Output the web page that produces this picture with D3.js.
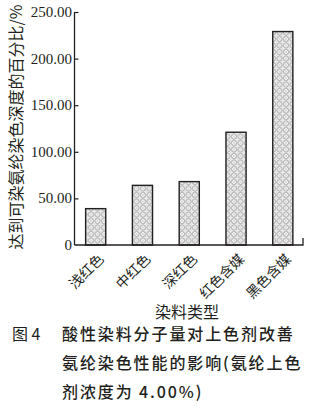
<!DOCTYPE html>
<html>
<head>
<meta charset="utf-8">
<script src="https://cdn.jsdelivr.net/npm/d3@7"></script>
<style>
  html, body { margin: 0; padding: 0; background: #fff; }
</style>
</head>
<body>
<div id="chart"></div>
<script>
// data
var categories = ["浅红色", "中红色", "深红色", "红色含媒", "黑色含媒"];
var values = [39, 64, 68, 121, 229];
var yTicks = [0, 50, 100, 150, 200, 250];
var yTickLabels = ["0", "50.00", "100.00", "150.00", "200.00", "250.00"];
var captionLines = ["酸性染料分子量对上色剂改善", "氨纶染色性能的影响(氨纶上色", "剂浓度为 4.00%)"];

var width = 314,
	height = 406,
	ink = "#231f20",
	serif = "'Liberation Serif', 'Times New Roman', serif",
	cjk = "'Noto Sans CJK SC', 'Noto Sans', sans-serif";

var svg = d3.select("#chart")
			.append("svg")
			.attr("width", width)
			.attr("height", height);

// crosshatch / chain-link fill of the bars
var defs = svg.append("defs");
var pat = defs.append("pattern")
			.attr("id", "hatch")
			.attr("patternUnits", "userSpaceOnUse")
			.attr("width", 6.5)
			.attr("height", 6.5);
pat.append("rect").attr("width", 6.5).attr("height", 6.5).attr("fill", "#fff");
[[3.25, 3.25], [0, 0], [6.5, 0], [0, 6.5], [6.5, 6.5]].forEach(function(c) {
	pat.append("circle")
		.attr("cx", c[0]).attr("cy", c[1]).attr("r", 2.6)
		.attr("fill", "none").attr("stroke", "#9a9a9a").attr("stroke-width", 0.6);
});
pat.append("path")
	.attr("d", "M0,0L6.5,6.5M6.5,0L0,6.5")
	.attr("stroke", "#b5b5b5").attr("stroke-width", 0.5);

var x = d3.scaleBand()
		.domain(categories)
		.range([73, 305.5])
		.paddingInner(0.57)
		.paddingOuter(0.27);

var y = d3.scaleLinear()
		.domain([0, 250])
		.range([245, 12]);

// bars
svg.selectAll(".bar")
	.data(values)
	.enter()
	.append("rect")
	.attr("class", "bar")
	.attr("x", function(d, i) { return x(categories[i]); })
	.attr("y", function(d) { return y(d); })
	.attr("width", x.bandwidth())
	.attr("height", function(d) { return y(0) - y(d); })
	.attr("fill", "url(#hatch)")
	.attr("stroke", ink)
	.attr("stroke-width", 1.4);

// y axis, ticks pointing inward
var yAxis = d3.axisRight(y)
		.tickValues(yTicks)
		.tickSize(4)
		.tickFormat("");
var yg = svg.append("g")
		.attr("transform", "translate(74.5,0)")
		.call(yAxis);
yg.select(".domain").remove();
yg.selectAll(".tick").filter(function(d) { return d === 0; }).remove();
yg.selectAll(".tick line").attr("stroke", ink).attr("stroke-width", 1.2);

svg.append("line")
	.attr("x1", 74.5).attr("x2", 74.5)
	.attr("y1", y(0)).attr("y2", y(250))
	.attr("stroke", ink).attr("stroke-width", 1.3);

svg.selectAll(".ylab")
	.data(yTicks)
	.enter()
	.append("text")
	.attr("class", "ylab")
	.attr("x", 72)
	.attr("y", function(d) { return y(d) + 5; })
	.attr("text-anchor", "end")
	.attr("font-family", serif)
	.attr("font-size", "15px")
	.attr("fill", ink)
	.text(function(d, i) { return yTickLabels[i]; });

// x axis with a short end tick
svg.append("path")
	.attr("d", "M74.5," + y(0) + "H303V" + (y(0) - 7))
	.attr("fill", "none")
	.attr("stroke", ink)
	.attr("stroke-width", 1.3);

svg.selectAll(".xlab")
	.data(categories)
	.enter()
	.append("text")
	.attr("class", "xlab")
	.attr("transform", function(d) {
		return "translate(" + (x(d) + x.bandwidth() / 2 + 9) + ",260) rotate(-45)";
	})
	.attr("text-anchor", "end")
	.attr("font-family", cjk)
	.attr("font-size", "14px")
	.attr("fill", ink)
	.text(function(d) { return d; });

// axis titles
svg.append("text")
	.attr("transform", "translate(22,127) rotate(-90)")
	.attr("text-anchor", "middle")
	.attr("font-family", cjk)
	.attr("font-size", "16px")
	.attr("fill", ink)
	.text("达到可染氨纶染色深度的百分比/%");

svg.append("text")
	.attr("x", 187)
	.attr("y", 318)
	.attr("text-anchor", "middle")
	.attr("font-family", cjk)
	.attr("font-size", "16px")
	.attr("fill", ink)
	.text("染料类型");

// figure caption
svg.append("text")
	.attr("x", 12)
	.attr("y", 340)
	.attr("font-family", cjk)
	.attr("font-size", "16px")
	.attr("fill", ink)
	.text("图 4");

svg.selectAll(".cap")
	.data(captionLines)
	.enter()
	.append("text")
	.attr("class", "cap")
	.attr("x", 62)
	.attr("y", function(d, i) { return 340 + i * 29; })
	.attr("font-family", cjk)
	.attr("font-size", "16px")
	.attr("font-weight", 500)
	.attr("letter-spacing", "1.9px")
	.attr("fill", ink)
	.text(function(d) { return d; });
</script>
</body>
</html>
